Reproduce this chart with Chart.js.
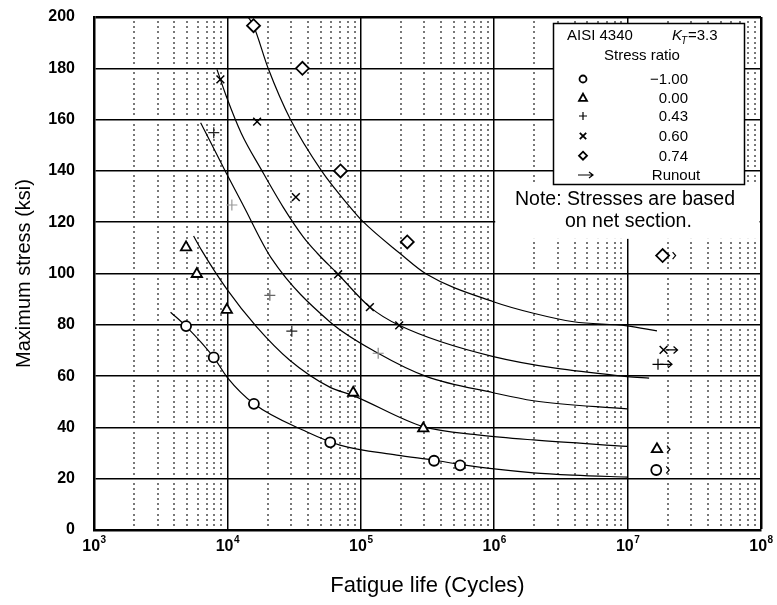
<!DOCTYPE html>
<html lang="en">
<head>
  <meta charset="UTF-8" />
  <title>AISI 4340 fatigue life</title>
  <script src="https://cdn.jsdelivr.net/npm/chart.js"></script>
  <style>
    html, body { margin: 0; padding: 0; background: #fff; }
    #wrap { width: 777px; height: 605px; }
  </style>
</head>
<body>
  <div id="wrap"><canvas id="snChart" width="777" height="605"></canvas></div>
  <script>
    // ---- test points (cycles, max stress ksi) ----
    const circleN = [4900, 7900, 15800, 59000, 354000, 555000];
    const circleS = [79.5, 67.3, 49.2, 34.2, 27.0, 25.2];
    const triN = [4900, 5900, 9900, 87700, 294000];
    const triS = [110.2, 99.8, 85.8, 53.5, 39.6];
    const plusN = [7900, 10800, 20800, 30400, 135000];
    const plusS = [154.9, 126.7, 91.5, 77.5, 68.9];
    const crossN = [8860, 16700, 32600, 67600, 117000, 194000];
    const crossS = [175.7, 159.2, 129.8, 99.7, 86.9, 79.8];
    const diamN = [15700, 36500, 70500, 223000];
    const diamS = [196.6, 180, 140, 112.3];

    // runouts, one per stress ratio (circle, triangle, plus, x, diamond)
    const runoutN = [1.64e7, 1.66e7, 1.69e7, 1.86e7, 1.83e7];
    const runoutS = [23.4, 31.5, 64.6, 70.2, 107];

    // ---- fitted curves ----
    const curveCircleN = [3750, 4900, 7900, 10000, 15800, 39200, 69700, 186000, 354000, 555000, 1000000, 1970000, 3940000, 10000000];
    const curveCircleS = [84.9, 79.4, 67.3, 59.4, 49.2, 38.3, 33.1, 29.2, 27.2, 25.6, 23.8, 22.3, 21.4, 20.6];
    const curveTriN = [5580, 6380, 9930, 16500, 29200, 58500, 87700, 294000, 783000, 1970000, 10000000];
    const curveTriS = [114.6, 109.2, 93.8, 79.3, 66.3, 55.7, 52.4, 40.3, 37.0, 35.1, 32.6];
    const curvePlusN = [6300, 9820, 13100, 21400, 58500, 135000, 312000, 986000, 1970000, 9900000];
    const curvePlusS = [158.8, 139.1, 126.7, 105.9, 81.2, 68.9, 59.8, 53.5, 50.4, 47.2];
    const curveCrossN = [8350, 9840, 12700, 18000, 26100, 37000, 47000, 67600, 117000, 194000, 986000, 9900000, 14500000];
    const curveCrossS = [179.6, 168.9, 154.7, 140.4, 126, 114.3, 108, 99.7, 86.9, 79.8, 67.6, 59.8, 59.2];
    const curveDiamN = [14300, 15700, 20200, 29700, 50800, 82800, 104000, 196000, 312000, 986000, 1970000, 3940000, 9900000, 16600000];
    const curveDiamS = [200, 196.6, 180, 160, 140, 126, 120.2, 107.9, 99.7, 89, 84.5, 81.2, 79.6, 77.6];

    // ---- axis / legend text ----
    const xExponents = [3, 4, 5, 6, 7, 8];
    const ratioLabels = ['\u22121.00', '0.00', '0.43', '0.60', '0.74'];
    const ratioStyles = ['circle', 'triangle', 'cross', 'crossRot', 'rectRot'];

    const FONT = "'Liberation Sans', Arial, sans-serif";
    Chart.defaults.font.family = FONT;
    Chart.defaults.color = '#000';

    function pts(n, s) {
      return n.map((v, i) => ({ x: v, y: s[i] }));
    }

    function isDecade(v) {
      const l = Math.log10(v);
      return Math.abs(l - Math.round(l)) < 1e-9;
    }

    function curve(n, s) {
      return {
        type: 'line', data: pts(n, s), borderColor: '#000', borderWidth: 1.2,
        pointRadius: 0, cubicInterpolationMode: 'monotone', fill: false, order: 2
      };
    }

    function marks(n, s, style, r, extra) {
      return Object.assign({
        type: 'scatter', data: pts(n, s), pointStyle: style, pointRadius: r,
        borderColor: '#000', backgroundColor: '#fff', borderWidth: 1.8, order: 1
      }, extra || {});
    }

    // little symbol helper for the legend box
    function drawSymbol(ctx, style, x, y, r) {
      ctx.beginPath();
      if (style === 'circle') {
        ctx.arc(x, y, r, 0, Math.PI * 2);
      } else if (style === 'triangle') {
        ctx.moveTo(x, y - r); ctx.lineTo(x + r, y + r * 0.8); ctx.lineTo(x - r, y + r * 0.8); ctx.closePath();
      } else if (style === 'cross') {
        ctx.moveTo(x - r, y); ctx.lineTo(x + r, y); ctx.moveTo(x, y - r); ctx.lineTo(x, y + r);
      } else if (style === 'crossRot') {
        ctx.moveTo(x - r * 0.8, y - r * 0.8); ctx.lineTo(x + r * 0.8, y + r * 0.8);
        ctx.moveTo(x + r * 0.8, y - r * 0.8); ctx.lineTo(x - r * 0.8, y + r * 0.8);
      } else if (style === 'rectRot') {
        ctx.moveTo(x, y - r); ctx.lineTo(x + r, y); ctx.lineTo(x, y + r); ctx.lineTo(x - r, y); ctx.closePath();
      }
      ctx.stroke();
    }

    const decor = {
      id: 'decor',
      beforeDatasetsDraw(chart) {
        const { ctx, chartArea: a, scales: { x, y } } = chart;
        ctx.save();
        // dotted minor grid: dots at 2..9 x decade, every 2 ksi
        ctx.fillStyle = '#111';
        for (let e = 3; e <= 7; e++) {
          for (let m = 2; m <= 9; m++) {
            const px = x.getPixelForValue(m * Math.pow(10, e));
            for (let v = 2; v < 200; v += 2) {
              if (v % 20 === 0) continue;
              const py = y.getPixelForValue(v);
              ctx.fillRect(Math.round(px) - 0.75, Math.round(py) - 0.75, 1.5, 1.5);
            }
          }
        }
        // blank area behind the note
        ctx.fillStyle = '#fff';
        const nx = x.getPixelForValue(1e6) + 1;
        const ny = y.getPixelForValue(134.5);
        ctx.fillRect(nx, ny, a.right - 1.5 - nx, y.getPixelForValue(113.5) - ny);

        // legend box
        const bx = a.right - 208, by = a.top + 6, bw = 191, bh = 161;
        ctx.fillRect(bx, by, bw, bh);
        ctx.strokeStyle = '#000';
        ctx.lineWidth = 1.5;
        ctx.strokeRect(bx + 0.5, by + 0.5, bw, bh);

        ctx.fillStyle = '#000';
        ctx.textBaseline = 'alphabetic';
        ctx.font = '15px ' + FONT;
        ctx.textAlign = 'left';
        ctx.fillText('AISI 4340', bx + 14, by + 17);
        ctx.font = 'italic 15px ' + FONT;
        ctx.fillText('K', bx + 119, by + 17);
        ctx.font = 'italic 10px ' + FONT;
        ctx.fillText('T', bx + 128, by + 21);
        ctx.font = '15px ' + FONT;
        ctx.fillText('=3.3', bx + 135, by + 17);
        ctx.textAlign = 'center';
        ctx.fillText('Stress ratio', bx + 89, by + 37);

        const rowY = [61, 79.7, 98, 118, 137.7];
        ratioLabels.forEach((lab, i) => {
          ctx.textAlign = 'right';
          ctx.fillText(lab, bx + 135, by + rowY[i]);
          ctx.lineWidth = ratioStyles[i] === 'cross' ? 1.2 : 1.8;
          drawSymbol(ctx, ratioStyles[i], bx + 30, by + rowY[i] - 5, ratioStyles[i] === 'circle' ? 3.5 : 4);
        });
        ctx.textAlign = 'center';
        ctx.fillText('Runout', bx + 123, by + 157);
        ctx.lineWidth = 1.2;
        ctx.beginPath();
        ctx.moveTo(bx + 25, by + 152); ctx.lineTo(bx + 40, by + 152);
        ctx.moveTo(bx + 36, by + 149); ctx.lineTo(bx + 40, by + 152); ctx.lineTo(bx + 36, by + 155);
        ctx.stroke();

        // note
        ctx.textAlign = 'left';
        ctx.font = '19.5px ' + FONT;
        ctx.fillText('Note: Stresses are based', a.left + 421, a.top + 188);
        ctx.fillText('on net section.', a.left + 471, a.top + 210);
        ctx.restore();
      },
      afterDatasetsDraw(chart) {
        const { ctx, chartArea: a, scales: { x } } = chart;
        ctx.save();
        // runout arrows
        const meta = chart.getDatasetMeta(chart.data.datasets.length - 1);
        ctx.strokeStyle = '#000';
        ctx.lineWidth = 1.2;
        meta.data.forEach((el, i) => {
          const sx = el.x, sy = el.y;
          ctx.beginPath();
          if (ratioStyles[i] === 'cross' || ratioStyles[i] === 'crossRot') {
            ctx.moveTo(sx + 2, sy); ctx.lineTo(sx + 14, sy);
            ctx.moveTo(sx + 10, sy - 3.5); ctx.lineTo(sx + 14, sy); ctx.lineTo(sx + 10, sy + 3.5);
          } else {
            ctx.moveTo(sx + 10, sy - 3.5); ctx.lineTo(sx + 13, sy); ctx.lineTo(sx + 10, sy + 3.5);
          }
          ctx.stroke();
        });
        // x tick labels 10^n
        ctx.fillStyle = '#000';
        ctx.textBaseline = 'alphabetic';
        ctx.textAlign = 'left';
        xExponents.forEach(e => {
          const px = x.getPixelForValue(Math.pow(10, e));
          ctx.font = 'bold 16px ' + FONT;
          const w1 = ctx.measureText('10').width;
          ctx.font = 'bold 10px ' + FONT;
          const w2 = ctx.measureText(String(e)).width;
          const x0 = px - (w1 + w2) / 2;
          ctx.font = 'bold 16px ' + FONT;
          ctx.fillText('10', x0, a.bottom + 21);
          ctx.font = 'bold 10px ' + FONT;
          ctx.fillText(String(e), x0 + w1 + 0.5, a.bottom + 13);
        });
        ctx.restore();
      }
    };

    new Chart(document.getElementById('snChart'), {
      data: {
        datasets: [
          curve(curveCircleN, curveCircleS),
          curve(curveTriN, curveTriS),
          curve(curvePlusN, curvePlusS),
          curve(curveCrossN, curveCrossS),
          curve(curveDiamN, curveDiamS),
          marks(circleN, circleS, 'circle', 5),
          marks(triN, triS, 'triangle', 6),
          marks(plusN, plusS, 'cross', 5.5, { borderWidth: 1.2, borderColor: ['#222', '#999', '#666', '#222', '#888'] }),
          marks(crossN, crossS, 'crossRot', 5.5, { borderWidth: 1.5 }),
          marks(diamN, diamS, 'rectRot', 6.5),
          marks(runoutN, runoutS, ratioStyles, [5, 6, 5.5, 5.5, 6.5], { borderWidth: [1.8, 1.8, 1.2, 1.5, 1.8] })
        ]
      },
      options: {
        responsive: false,
        animation: false,
        devicePixelRatio: 1,
        layout: { padding: { left: 0, right: 16, top: 17, bottom: 0 } },
        plugins: { legend: { display: false }, tooltip: { enabled: false } },
        scales: {
          x: {
            type: 'logarithmic', position: 'bottom', min: 1000, max: 1e8,
            ticks: { display: false },
            grid: {
              drawTicks: false,
              color: c => (c.tick && isDecade(c.tick.value)) ? '#000' : 'rgba(0,0,0,0)',
              lineWidth: c => (c.tick && c.tick.value >= 1e8) ? 2.5 : 1.5
            },
            border: { color: '#000', width: 2.5 },
            title: { display: true, text: 'Fatigue life (Cycles)', font: { size: 22 }, padding: { top: 0, bottom: 6 } },
            afterFit: s => { s.height = 75; }
          },
          y: {
            type: 'linear', min: 0, max: 200,
            ticks: { stepSize: 20, font: { size: 16, weight: 'bold' }, color: '#000', padding: 19 },
            grid: {
              drawTicks: false, color: '#000',
              lineWidth: c => (c.tick && c.tick.value >= 200) ? 2.5 : 1.5
            },
            border: { color: '#000', width: 2.5 },
            title: { display: true, text: 'Maximum stress (ksi)', font: { size: 20 }, padding: { top: 12, bottom: 0 } },
            afterFit: s => { s.width = 94; s.paddingTop = 0; s.paddingBottom = 0; }
          }
        }
      },
      plugins: [decor]
    });
  </script>
</body>
</html>
